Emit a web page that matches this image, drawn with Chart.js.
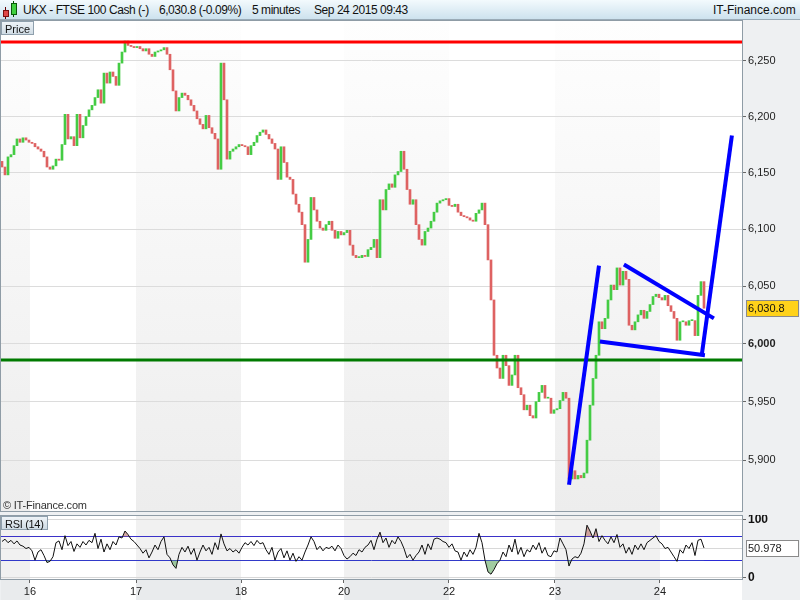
<!DOCTYPE html>
<html>
<head>
<meta charset="utf-8">
<title>UKX - FTSE 100 Cash</title>
<script src="https://cdn.jsdelivr.net/npm/chart.js@4.4.1/dist/chart.umd.min.js"></script>
<style>
    html, body { margin: 0; padding: 0; }
    body { width: 800px; height: 600px; position: relative; overflow: hidden; background: #eef0f2; font-family: "Liberation Sans", Arial, sans-serif; color: #111; }
    #titlebar { position: absolute; left: 0; top: 0; width: 800px; height: 19px; background: linear-gradient(#f3fafd, #cde2ee); border-bottom: 1px solid #9aabb7; }
    #titlebar span { position: absolute; top: 3px; font-size: 12px; line-height: 14px; letter-spacing: -0.45px; white-space: nowrap; }
    .ico { position: absolute; box-sizing: border-box; }
    canvas { position: absolute; left: 0; }
    .tag { position: absolute; box-sizing: border-box; font-size: 11px; line-height: 12px; white-space: nowrap; }
</style>
</head>
<body>
<div id="titlebar">
    <div class="ico" style="left:5px;top:7px;width:1px;height:12px;background:#600"></div>
    <div class="ico" style="left:3px;top:10px;width:6px;height:7px;background:#e04848;border:1px solid #7a1010"></div>
    <div class="ico" style="left:13px;top:1px;width:1px;height:16px;background:#050"></div>
    <div class="ico" style="left:11px;top:3px;width:6px;height:12px;background:#3fd040;border:1px solid #0a5a0a"></div>
    <span style="left:23px">UKX - FTSE 100 Cash (-)</span>
    <span style="left:159px">6,030.8 (-0.09%)</span>
    <span style="left:252px">5 minutes</span>
    <span style="left:314px">Sep 24 2015 09:43</span>
    <span style="left:713px;letter-spacing:0">IT-Finance.com</span>
</div>

<canvas id="priceChart" width="800" height="492" style="top:20px"></canvas>
<canvas id="rsiChart" width="800" height="85" style="top:515px"></canvas>

<div class="tag" style="left:1px;top:21px;height:14px;padding:1px 3px;background:linear-gradient(#eef3f7,#cfdbe4);border:1px solid #8fa0ad">Price</div>
<div class="tag" style="left:3px;top:499px;color:#333;letter-spacing:-0.2px">© IT-Finance.com</div>
<div class="tag" style="left:1px;top:516px;height:14px;padding:1px 3px;background:linear-gradient(#eef3f7,#cfdbe4);border:1px solid #8fa0ad;letter-spacing:-0.3px">RSI (14)</div>

<script>
// session starts on the 5 minute candle index, one candle every 3px
const dayLabels = ['16', '17', '18', '20', '22', '23', '24'];
const dayStarts = [9.33, 44.67, 79.67, 114, 149, 184.33, 219.33];
const priceTicks = [5900, 5950, 6000, 6050, 6100, 6150, 6200, 6250];
const rsiLevels = [0, 30, 50, 70, 100];

const firstOpen = 6160;
const closes = [
    // 15 / 16
    6155, 6148, 6164, 6166, 6174, 6180, 6177, 6181, 6179, 6177,
    6176, 6173, 6171, 6169, 6164, 6155, 6153, 6156, 6162, 6161,
    6175, 6202, 6180, 6182, 6174, 6202, 6181, 6192, 6200, 6206,
    6210, 6217, 6224, 6212, 6239, 6230, 6240, 6236, 6228, 6248,
    6258, 6268, 6264, 6263, 6262,
    // 17 / 18
    6263, 6261, 6259, 6261, 6256, 6254, 6258, 6259, 6260, 6262,
    6256, 6242, 6223, 6205, 6217, 6221, 6219, 6215, 6210, 6205,
    6198, 6193, 6189, 6201, 6190, 6185, 6180, 6153, 6248, 6215,
    6162, 6169, 6171, 6173, 6175, 6174, 6173, 6166, 6174, 6177,
    6183, 6186, 6188, 6184,
    // 18 / 20 / 22
    6180, 6176, 6171, 6144, 6173, 6159, 6146, 6144, 6131, 6122,
    6115, 6104, 6071, 6091, 6128, 6117, 6107, 6101, 6099, 6104,
    6107, 6099, 6092, 6098, 6095, 6097, 6099, 6086, 6077, 6075,
    6075, 6077, 6076, 6082, 6084, 6091, 6075, 6126, 6117, 6135,
    6140, 6137, 6148, 6151, 6169, 6153, 6135, 6122, 6126, 6104,
    6091, 6086, 6098, 6101, 6107, 6115, 6123, 6125, 6126, 6127,
    6121, 6120, 6122, 6115, 6112, 6111, 6110, 6108, 6107, 6114,
    6117, 6123, 6104, 6073,
    // 22 / 23
    6038, 5990, 5979, 5970, 5990, 5981, 5964, 5973, 5990, 5962,
    5956, 5943, 5947, 5938, 5936, 5950, 5958, 5964, 5953, 5953,
    5940, 5943, 5944, 5951, 5958, 5953, 5884, 5891, 5884, 5887,
    5885, 5889, 5917, 5947, 5970, 5990, 6019, 6013, 6022, 6038,
    // 23 / 24
    6051, 6047, 6066, 6051, 6063, 6056, 6016, 6012, 6019, 6025,
    6029, 6022, 6028, 6034, 6041, 6043, 6040, 6038, 6042, 6033,
    6028, 6022, 6003, 6019, 6019, 6016, 6020, 6020, 6007, 6042,
    6054, 6030.8
];

const rsi = [
    62, 66, 60, 64, 58, 63, 56, 54, 50, 52, 46, 30, 44, 48, 38, 26, 28, 36, 60, 63,
    48, 72, 55, 62, 45, 58, 52, 62, 56, 64, 60, 76, 50, 66, 44, 58, 48, 62, 56, 70,
    68, 80, 74, 66, 62,
    56, 50, 42, 48, 34, 44, 56, 48, 62, 70, 40, 34, 22, 16, 40, 52, 44, 54, 40, 50,
    30, 44, 56, 46, 52, 40, 60, 48, 75, 58, 46, 50, 44, 48, 42, 52, 60, 56, 62, 55,
    64, 58, 60, 48,
    40, 52, 30, 44, 50, 34, 46, 30, 42, 28, 36, 30, 44, 56, 70, 62, 48, 54, 46, 52,
    50, 54, 46, 56, 50, 38, 32, 36, 42, 38, 48, 44, 52, 56, 64, 48, 66, 78, 60, 68,
    52, 64, 58, 70, 62, 50, 34, 40, 30, 38, 44, 56, 40, 58, 48, 66, 68, 66, 62, 60,
    52, 58, 46, 44, 30, 44, 36, 48, 40, 52, 76, 60, 30, 10,
    6, 14, 24, 30, 44, 36, 56, 44, 66, 40, 52, 36, 48, 44, 56, 48, 60, 42, 52, 38,
    36, 46, 44, 68, 58, 48, 20, 32, 36, 34, 42, 58, 90, 80, 68, 84, 62, 72, 64, 58,
    70, 60, 74, 52, 58, 42, 52, 40, 56, 48, 58, 48, 60, 64, 68, 72, 62, 58, 50, 52,
    44, 36, 28, 48, 42, 56, 50, 60, 38, 64, 66, 50.978
];

// hand drawn levels and trend lines (candle index, price)
const resistance = 6267;
const support = 5986;
const legUp = [[189, 5879], [199, 6068]];
const flagTop = [[207.3, 6069], [237.3, 6022]];
const flagBottom = [[199.3, 6002], [234.3, 5990]];
const breakout = [[233.3, 5991], [243.3, 6183]];

const xMin = -0.333, xMax = 246.667;
const priceMin = 5856, priceMax = 6287;
const rsiMin = -3.9, rsiMax = 107.4;

Chart.defaults.font.family = '"Liberation Sans", Arial, sans-serif';
Chart.defaults.font.size = 11;
Chart.defaults.color = '#222';

const opens = [firstOpen].concat(closes.slice(0, -1));
const candles = closes.map((c, i) => ({ x: i, y: [opens[i], c] }));
const candleColors = closes.map((c, i) => c >= opens[i] ? '#44cc44' : '#de6262');
const pts = arr => arr.map(p => ({ x: p[0], y: p[1] }));
const flat = v => [{ x: xMin, y: v }, { x: xMax, y: v }];
const rsiPts = rsi.map((v, i) => ({ x: i, y: v }));

// no label overhang padding: plot area must fill the whole panel
const noPad = s => { s.paddingTop = 0; s.paddingBottom = 0; s.paddingLeft = 0; s.paddingRight = 0; };

function sessionShade(top, bottom, strip) {
    return {
        id: 'sessionShade',
        beforeDraw(chart) {
            const { ctx, chartArea: a, scales: { x } } = chart;
            ctx.save();
            ctx.fillStyle = '#ffffff';
            ctx.fillRect(a.left, a.top, a.right - a.left, a.bottom - a.top);
            const g = ctx.createLinearGradient(0, a.top, 0, a.bottom);
            g.addColorStop(0, top);
            g.addColorStop(1, bottom);
            const bounds = [x.min].concat(dayStarts, [x.max]);
            for (let j = 0; j < bounds.length - 1; j++) {
                const x0 = x.getPixelForValue(bounds[j]);
                const x1 = x.getPixelForValue(bounds[j + 1]);
                if (j % 2 === 0) {
                    ctx.fillStyle = g;
                    ctx.fillRect(x0, a.top, x1 - x0, a.bottom - a.top);
                }
                if (strip) {
                    ctx.fillStyle = j % 2 === 0 ? strip : '#ffffff';
                    ctx.fillRect(x0, a.bottom, x1 - x0, chart.height - a.bottom);
                }
            }
            ctx.restore();
        }
    };
}

function panelFrame(tagValue, tagText, fill, textColor) {
    return {
        id: 'panelFrame',
        afterDraw(chart) {
            const { ctx, chartArea: a, scales: { y } } = chart;
            ctx.save();
            ctx.strokeStyle = '#8f9ca6';
            ctx.lineWidth = 1;
            ctx.strokeRect(a.left - 0.5, a.top + 0.5, a.right - a.left + 1, a.bottom - a.top - 1);
            const ty = Math.round(y.getPixelForValue(tagValue));
            ctx.fillStyle = fill;
            ctx.fillRect(a.right + 4, ty - 8, 53, 17);
            ctx.strokeStyle = '#8a8a8a';
            ctx.strokeRect(a.right + 4.5, ty - 7.5, 52, 16);
            ctx.fillStyle = textColor;
            ctx.font = '11px "Liberation Sans", Arial, sans-serif';
            ctx.textAlign = 'left';
            ctx.textBaseline = 'middle';
            ctx.fillText(tagText, a.right + 6, ty + 1);
            ctx.restore();
        }
    };
}

const priceCtx = document.getElementById('priceChart').getContext('2d');
const last = closes[closes.length - 1];
new Chart(priceCtx, {
    type: 'bar',
    data: {
        datasets: [
            { type: 'line', data: pts(breakout), borderColor: '#0000ff', borderWidth: 4, pointRadius: 0, order: 0 },
            { type: 'line', data: pts(flagBottom), borderColor: '#0000ff', borderWidth: 4, pointRadius: 0, order: 0 },
            { type: 'line', data: pts(flagTop), borderColor: '#0000ff', borderWidth: 4, pointRadius: 0, order: 0 },
            { type: 'line', data: pts(legUp), borderColor: '#0000ff', borderWidth: 4, pointRadius: 0, order: 0 },
            { type: 'line', data: flat(resistance), borderColor: '#ff0000', borderWidth: 3, pointRadius: 0, order: 1 },
            { type: 'line', data: flat(support), borderColor: '#007a00', borderWidth: 3, pointRadius: 0, order: 1 },
            { data: candles, backgroundColor: candleColors, borderWidth: 0, barThickness: 2, minBarLength: 1, grouped: false, order: 2 }
        ]
    },
    options: {
        responsive: false,
        animation: false,
        events: [],
        layout: { padding: { left: 1, right: 0, top: 0, bottom: 0 } },
        plugins: { legend: { display: false }, tooltip: { enabled: false } },
        scales: {
            x: { type: 'linear', min: xMin, max: xMax, bounds: 'data', offset: false, display: false },
            y: {
                type: 'logarithmic', position: 'right', min: priceMin, max: priceMax, bounds: 'data',
                afterBuildTicks: s => { s.ticks = priceTicks.map(v => ({ value: v })); },
                afterFit: s => { s.width = 58; noPad(s); },
                grid: { color: '#dcdcdc', tickColor: '#666', tickLength: 4 },
                border: { display: false },
                ticks: {
                    padding: 2,
                    color: '#222',
                    autoSkip: false,
                    font: c => ({ size: 11, weight: c.tick && c.tick.value === 6000 ? 'bold' : 'normal' }),
                    callback: v => v.toLocaleString('en-US')
                }
            }
        }
    },
    plugins: [
        sessionShade('#fefefe', '#ededed', null),
        panelFrame(last, last.toLocaleString('en-US', { minimumFractionDigits: 1 }), '#ffd21a', '#111')
    ]
});

const rsiCtx = document.getElementById('rsiChart').getContext('2d');
new Chart(rsiCtx, {
    type: 'line',
    data: {
        datasets: [
            { data: rsiPts, borderColor: '#111', borderWidth: 1, pointRadius: 0, fill: false, order: 0 },
            { data: rsiPts, borderWidth: 0, pointRadius: 0, order: 1,
              fill: { target: { value: 30 }, above: 'rgba(0,0,0,0)', below: 'rgba(110,175,110,0.65)' } },
            { data: rsiPts, borderWidth: 0, pointRadius: 0, order: 1,
              fill: { target: { value: 70 }, above: 'rgba(185,110,100,0.6)', below: 'rgba(0,0,0,0)' } }
        ]
    },
    options: {
        responsive: false,
        animation: false,
        events: [],
        layout: { padding: { left: 1, right: 0, top: 0, bottom: 0 } },
        plugins: { legend: { display: false }, tooltip: { enabled: false } },
        scales: {
            x: {
                type: 'linear', min: xMin, max: xMax, bounds: 'data', offset: false,
                afterBuildTicks: s => { s.ticks = dayStarts.map(v => ({ value: v })); },
                afterFit: s => { s.height = 20; noPad(s); },
                grid: { drawOnChartArea: false, tickColor: '#666', tickLength: 3 },
                border: { display: false },
                ticks: { autoSkip: false, maxRotation: 0, padding: 2, color: '#222', font: { size: 11 },
                         callback: (v, i) => dayLabels[i] }
            },
            y: {
                type: 'linear', position: 'right', min: rsiMin, max: rsiMax, bounds: 'data',
                afterBuildTicks: s => { s.ticks = rsiLevels.map(v => ({ value: v })); },
                afterFit: s => { s.width = 58; noPad(s); },
                grid: {
                    color: c => (c.tick && (c.tick.value === 30 || c.tick.value === 70)) ? '#2b2bd6' : '#d8d8d8',
                    tickColor: c => (c.tick && (c.tick.value === 0 || c.tick.value === 100)) ? '#666' : 'rgba(0,0,0,0)',
                    tickLength: 4
                },
                border: { display: false },
                ticks: { padding: 2, color: '#111', autoSkip: false, font: { size: 12, weight: 'bold' },
                         callback: v => (v === 0 || v === 100) ? String(v) : '' }
            }
        }
    },
    plugins: [
        sessionShade('#f1f1f1', '#f1f1f1', '#e9ebed'),
        panelFrame(rsi[rsi.length - 1], String(rsi[rsi.length - 1]), '#ffffff', '#222')
    ]
});
</script>
</body>
</html>
